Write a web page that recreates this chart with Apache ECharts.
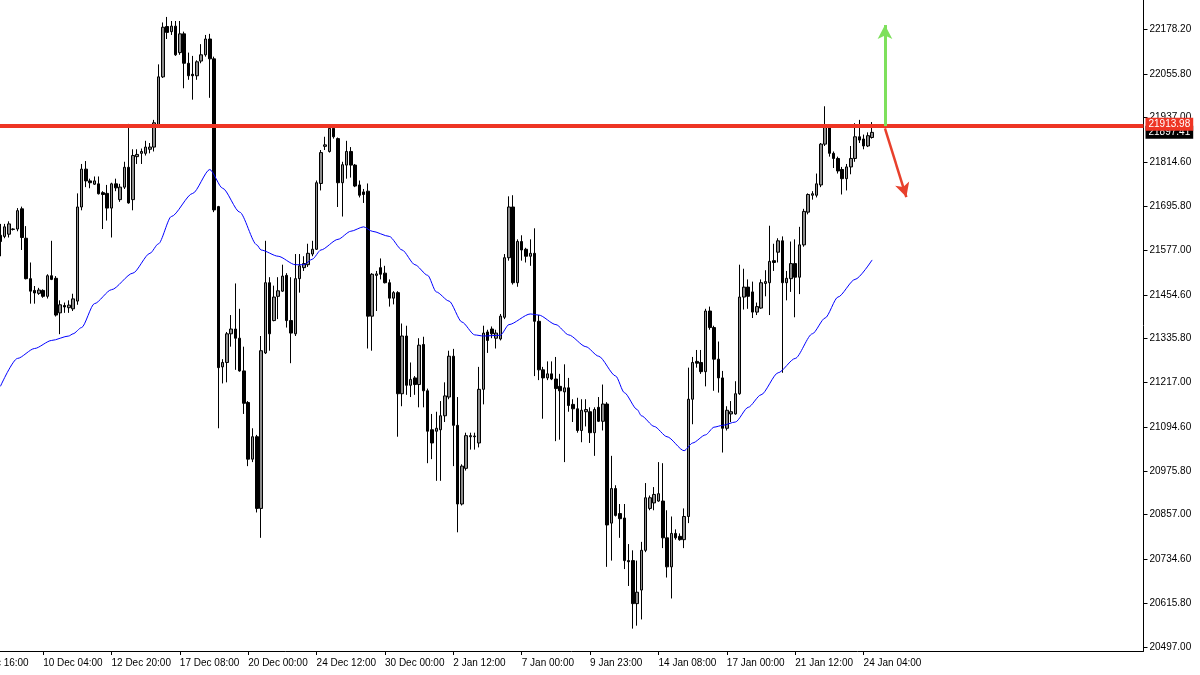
<!DOCTYPE html>
<html><head><meta charset="utf-8">
<script src="https://cdn.jsdelivr.net/npm/echarts@6/dist/echarts.min.js"></script>
<style>html,body{margin:0;padding:0;background:#fff}#c{width:1200px;height:675px}</style>
</head><body><div id="c"></div><script>
const opens = [
21617,21614,21620,21633,21634,21689,21609,21499,21467,21459,
21467,21451,21507,21500,21406,21426,21420,21417,21438,21694,
21797,21765,21756,21757,21733,21731,21691,21757,21714,21748,
21802,21714,21831,21840,21840,21851,21857,21917,22048,22185,
22171,22186,22114,22165,22085,22055,22051,22091,22108,22151,
22097,21695,21259,21271,21349,21362,21337,21248,21162,21008,
21069,20874,21297,21488,21385,21451,21465,21508,21385,21349,
21499,21529,21537,21566,21579,21758,21859,21845,21908,21880,
21760,21808,21845,21808,21754,21735,21737,21397,21508,21529,
21514,21488,21446,21461,21186,21343,21209,21229,21211,21320,
21194,21088,21084,21088,21126,21177,21288,21100,20886,20983,
21069,21069,21052,21198,21354,21362,21337,21335,21394,21556,
21694,21488,21600,21579,21560,21568,21383,21251,21229,21240,
21226,21206,21191,21202,21157,21145,21086,21137,21137,21080,
21149,21111,21158,20834,20928,20860,20848,20732,20732,20615,
20652,20760,20874,20889,20894,20894,20794,20715,20806,20798,
20789,20852,21171,21274,21271,21246,21411,21366,21280,21229,
21092,21131,21131,21186,21449,21476,21463,21408,21419,21486,
21488,21548,21571,21602,21488,21499,21540,21503,21591,21680,
21726,21726,21754,21865,21911,21840,21826,21796,21771,21803,
21826,21885,21879,21860,21883];
const closes = [
21600,21640,21648,21634,21684,21611,21499,21465,21460,21468,
21451,21507,21497,21400,21428,21422,21427,21444,21694,21797,
21765,21760,21765,21730,21728,21691,21757,21746,21748,21802,
21705,21834,21837,21845,21857,21857,21923,22048,22183,22169,
22186,22108,22165,22085,22051,22051,22089,22108,22151,22097,
21686,21257,21271,21349,21362,21337,21248,21160,21008,21069,
20874,21303,21488,21349,21449,21466,21506,21385,21351,21499,
21534,21540,21568,21579,21760,21842,21863,21908,21885,21760,
21809,21845,21808,21751,21726,21728,21397,21511,21512,21511,
21488,21446,21461,21186,21343,21209,21225,21211,21318,21194,
21084,21052,21092,21126,21180,21288,21100,20886,20989,21072,
21072,21071,21198,21351,21331,21349,21351,21397,21556,21694,
21488,21600,21577,21560,21568,21383,21251,21229,21240,21226,
21200,21194,21202,21154,21145,21086,21141,21143,21080,21143,
21111,21158,20829,20928,20855,20846,20732,20729,20615,20646,
20760,20903,20903,20912,20914,20794,20715,20806,20794,20789,
20852,21171,21271,21269,21246,21411,21366,21280,21229,21092,
21141,21137,21186,21449,21476,21451,21408,21423,21488,21491,
21546,21543,21602,21488,21500,21540,21503,21591,21682,21728,
21730,21757,21865,21911,21840,21826,21792,21771,21803,21826,
21885,21876,21860,21888,21897];
const lows = [
21560,21609,21611,21630,21628,21577,21497,21431,21431,21455,
21447,21445,21495,21396,21348,21406,21406,21411,21428,21685,
21748,21745,21754,21728,21634,21657,21611,21737,21708,21743,
21703,21685,21811,21811,21834,21840,21845,21914,22045,22151,
22162,22105,22108,22017,22040,21986,22040,22085,22103,21991,
21680,21092,21214,21217,21314,21251,21246,21131,20989,21000,
20863,20794,21294,21303,21383,21389,21463,21366,21269,21343,
21461,21520,21531,21560,21577,21739,21849,21842,21880,21694,
21668,21771,21774,21748,21720,21705,21309,21303,21411,21497,
21486,21423,21429,21069,21152,21183,21177,21183,21149,21149,
20997,21008,20949,20949,21109,21171,20989,20809,20882,20977,
21034,21034,21040,21157,21297,21337,21309,21331,21389,21548,
21483,21477,21548,21543,21534,21234,21223,21118,21223,21223,
21057,21061,21000,21137,21109,21080,21054,21097,21052,21017,
21109,21086,20715,20732,20852,20794,20709,20663,20547,20555,
20572,20755,20869,20869,20892,20766,20686,20629,20789,20786,
20766,20834,21103,21257,21240,21206,21360,21194,21189,21026,
21086,21109,21129,21183,21415,21417,21392,21400,21417,21451,
21400,21520,21543,21243,21440,21463,21394,21457,21586,21674,
21714,21720,21748,21860,21831,21800,21785,21728,21739,21783,
21817,21868,21851,21857,21880];
const highs = [
21648,21648,21655,21636,21691,21695,21642,21543,21479,21474,
21470,21511,21602,21506,21440,21434,21440,21458,21731,21811,
21819,21771,21777,21777,21737,21754,21760,21771,21757,21817,
21920,21851,21851,21853,21874,21868,21931,22082,22196,22211,
22200,22200,22200,22171,22114,22105,22093,22137,22162,22165,
22103,21697,21280,21354,21400,21486,21417,21314,21166,21092,
21074,21343,21602,21503,21480,21503,21537,21514,21503,21566,
21566,21560,21594,21602,21766,21849,21885,21914,21914,21883,
21817,21874,21857,21811,21766,21743,21758,21514,21520,21554,
21534,21497,21465,21465,21377,21371,21271,21234,21337,21341,
21200,21131,21137,21166,21217,21303,21308,21177,20994,21080,
21080,21080,21259,21371,21360,21369,21360,21403,21566,21723,
21726,21606,21617,21583,21606,21636,21400,21259,21274,21274,
21286,21240,21266,21229,21171,21175,21171,21171,21149,21149,
21177,21211,21163,21017,20937,20886,20886,20777,20760,20732,
20783,20943,20909,20932,21000,20997,20869,20852,20817,20806,
20874,21257,21286,21305,21305,21417,21423,21371,21328,21248,
21152,21166,21220,21537,21526,21497,21491,21434,21497,21522,
21643,21594,21609,21614,21520,21600,21606,21640,21689,21731,
21737,21785,21868,21968,21914,21845,21831,21803,21811,21860,
21922,21931,21891,21897,21925];

// moving average, read at sample bars (bar index, value)
const maIndex = [0,4,8,12,16,17,19,22,26,31,35,37,40,45,49,52,56,60,61,65,69,71,73,75,79,82,85,87,91,94,97,100,102,105,108,111,113,117,119,124,126,130,133,137,140,144,146,149,150,153,156,160,162,165,167,169,172,175,178,182,186,190,193,196,200,204];
const maValues = [21206,21282,21309,21331,21343,21349,21366,21431,21469,21514,21568,21594,21668,21731,21796,21745,21680,21591,21577,21560,21537,21537,21552,21577,21606,21628,21640,21628,21614,21577,21537,21508,21463,21438,21381,21346,21343,21345,21374,21403,21400,21374,21346,21314,21288,21234,21189,21143,21126,21097,21069,21031,21052,21074,21095,21100,21109,21149,21183,21243,21282,21349,21392,21449,21497,21550];

const timeTicks = ["5 Dec 16:00","10 Dec 04:00","12 Dec 20:00","17 Dec 08:00","20 Dec 00:00","24 Dec 12:00","30 Dec 00:00","2 Jan 12:00","7 Jan 00:00","9 Jan 23:00","14 Jan 08:00","17 Jan 00:00","21 Jan 12:00","24 Jan 04:00"];
const priceTicks = [20497.00,20615.80,20734.60,20857.00,20975.80,21094.60,21217.00,21335.80,21454.60,21577.00,21695.80,21814.60,21937.00,22055.80,22178.20];
const levelPrice = 21913.98;
const bidPrice = 21897.41;
// arrows: [barIndex, price] start and end
const arrowUp = [[207, 21914], [207, 22189]];
const arrowDown = [[207, 21908], [212, 21721]];

const leadBars = 6;     // earlier bars, off the left edge
const trailBars = 63;   // empty space on the right
const tickEvery = 16;

const nBars = opens.length;
const total = leadBars + nBars + trailBars;
const cats = [];
for (let c = 0; c < total; c++) cats.push(String(c));
const candleData = [];
for (let c = 0; c < total; c++) {
  const i = c - leadBars;
  if (i >= 0 && i < nBars) candleData.push([opens[i], closes[i], lows[i], highs[i]]);
  else candleData.push('-');
}
const maData = maIndex.map((b, k) => [leadBars + b, maValues[k]]);
const isTick = (idx) => idx % tickEvery === 0 && (idx / tickEvery) < timeTicks.length;
const font = 'Liberation Sans, Arial, sans-serif';

const chart = echarts.init(document.getElementById('c'), null, {renderer: 'canvas'});
chart.setOption({
  animation: false,
  backgroundColor: '#ffffff',
  grid: {left: -27.38, right: 56.5, top: 0, bottom: 24, containLabel: false, outerBoundsMode: 'none'},
  xAxis: {
    type: 'category', data: cats, boundaryGap: true,
    axisLine: {show: true, lineStyle: {color: '#000', width: 1}},
    axisTick: {show: true, length: 4, alignWithLabel: true, interval: isTick, lineStyle: {color: '#000'}},
    axisLabel: {interval: isTick, align: 'left', margin: 7, color: '#000', fontFamily: font, fontSize: 10,
      formatter: (v, idx) => timeTicks[Math.round(Number(v) / tickEvery)] || ''},
    splitLine: {show: false}
  },
  yAxis: {
    type: 'value', position: 'right', min: 20486.1, max: 22257.1,
    splitLine: {show: false},
    axisLine: {show: true, lineStyle: {color: '#000', width: 1}},
    axisTick: {show: true, length: 4, customValues: priceTicks, lineStyle: {color: '#000'}},
    axisLabel: {customValues: priceTicks, margin: 6, color: '#000', fontFamily: font, fontSize: 10,
      formatter: v => Number(v).toFixed(2)}
  },
  series: [
    {
      type: 'line', data: maData, symbol: 'none', showSymbol: false, silent: true, z: 3,
      smooth: 0.25, smoothMonotone: 'x',
      lineStyle: {color: '#0000ff', width: 1}
    },
    {
      type: 'candlestick', data: candleData, barWidth: 3, z: 2,
      itemStyle: {color: '#8c8c8c', color0: '#000', borderColor: '#000', borderColor0: '#000', borderWidth: 1},
      markLine: {
        silent: true, symbol: ['none', 'none'], animation: false,
        data: [
          {yAxis: bidPrice, lineStyle: {color: 'rgba(0,0,0,0)', width: 1, type: 'solid'},
            label: {show: true, position: 'end', distance: 2, formatter: () => bidPrice.toFixed(2),
              backgroundColor: '#000', color: '#fff', padding: [2, 3, 1, 3], fontFamily: font, fontSize: 10}},
          {yAxis: levelPrice, lineStyle: {color: '#ee3524', width: 4, type: 'solid'},
            label: {show: true, position: 'end', distance: 2, offset: [0, -2], formatter: () => levelPrice.toFixed(2),
              backgroundColor: '#ee3524', color: '#fff', padding: [2, 3, 1, 3], fontFamily: font, fontSize: 10}},
          [
            {coord: [leadBars + arrowUp[0][0], arrowUp[0][1]], symbol: 'none',
              lineStyle: {color: '#7ee05c', width: 3, type: 'solid'}, label: {show: false}},
            {coord: [leadBars + arrowUp[1][0], arrowUp[1][1]], symbol: 'arrow', symbolSize: [11, 14]}
          ],
          [
            {coord: [leadBars + arrowDown[0][0], arrowDown[0][1]], symbol: 'none',
              lineStyle: {color: '#e8402c', width: 2.5, type: 'solid'}, label: {show: false}},
            {coord: [leadBars + arrowDown[1][0], arrowDown[1][1]], symbol: 'arrow', symbolSize: [11, 14]}
          ]
        ]
      }
    }
  ]
});
</script></body></html>
